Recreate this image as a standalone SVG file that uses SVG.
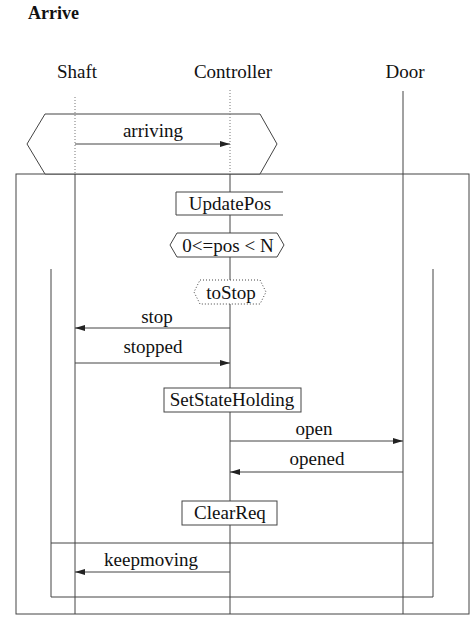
<svg xmlns="http://www.w3.org/2000/svg" width="474" height="623" viewBox="0 0 474 623">
<style>
text{font-family:"Liberation Serif","Times New Roman",serif;font-size:19px;fill:#111}
.title{font-weight:bold;font-size:18px}
.ln{stroke:#444;stroke-width:1;fill:none}
.dot{stroke:#777;stroke-width:1;stroke-dasharray:1 2;fill:none}
.box{stroke:#444;stroke-width:1;fill:#fff}
.msg{stroke:#444;stroke-width:1;fill:none;marker-end:url(#ah)}
</style>
<defs>
<marker id="ah" viewBox="0 0 10 6" refX="10" refY="3" markerWidth="10" markerHeight="6" markerUnits="userSpaceOnUse" orient="auto">
<path d="M0,0 L10,3 L0,6 Z" fill="#222"/>
</marker>
</defs>
<rect width="474" height="623" fill="#fff"/>
<text class="title" x="28" y="19">Arrive</text>
<g id="frames">
<rect class="ln" x="16" y="174" width="453" height="440"/>
<path class="ln" d="M51,269 V597 H433 V269"/>
<line class="ln" x1="51" y1="543" x2="433" y2="543" stroke="#888"/>
<path class="box" d="M45,114 H260 L277,144 L260,174 H45 L27,144 Z"/>
</g>
<g id="lifelines">
<g id="Shaft"><text x="77" y="78" text-anchor="middle">Shaft</text>
<line class="dot" x1="75" y1="97" x2="75" y2="174"/><line class="ln" x1="75" y1="174" x2="75" y2="614" stroke="#666"/></g>
<g id="Controller"><text x="233" y="78" text-anchor="middle">Controller</text>
<line class="dot" x1="230" y1="90" x2="230" y2="174"/><line class="ln" x1="230" y1="174" x2="230" y2="614" stroke="#666"/></g>
<g id="Door"><text x="405" y="78" text-anchor="middle">Door</text>
<line class="ln" x1="403" y1="91" x2="403" y2="614"/></g>
</g>
<g id="connectors">
<line class="msg" x1="75" y1="144" x2="230" y2="144"/>
<line class="msg" x1="230" y1="328" x2="75" y2="328"/>
<line class="msg" x1="75" y1="363" x2="230" y2="363"/>
<line class="msg" x1="230" y1="441" x2="403" y2="441" stroke="#777"/>
<line class="msg" x1="403" y1="472" x2="230" y2="472" stroke="#aaa"/>
<line class="msg" x1="230" y1="572" x2="75" y2="572"/>
</g>
<g id="labels">
<text x="153" y="137" text-anchor="middle">arriving</text>
<text x="157" y="323" text-anchor="middle">stop</text>
<text x="153" y="353" text-anchor="middle">stopped</text>
<text x="314" y="435" text-anchor="middle">open</text>
<text x="317" y="465" text-anchor="middle">opened</text>
<text x="151" y="566" text-anchor="middle">keepmoving</text>
</g>
<g id="UpdatePos">
<rect x="176" y="192" width="107" height="23" fill="#fff"/>
<path class="ln" d="M283,192 H176 V215 H283" stroke="#666"/>
<text x="230" y="210" text-anchor="middle">UpdatePos</text>
</g>
<g id="cond">
<path class="box" d="M177,233 H277 L284,245 L277,257 H177 L170,245 Z"/>
<text x="228" y="252" text-anchor="middle">0&lt;=pos &lt; N</text>
</g>
<g id="toStop">
<path class="box" d="M200,280 H260 L266,292 L260,304 H200 L194,292 Z" stroke="#888" stroke-dasharray="1 2"/>
<text x="231" y="299" text-anchor="middle">toStop</text>
</g>
<g id="SetStateHolding">
<rect class="box" x="164" y="388" width="137" height="24"/>
<text x="232" y="406" text-anchor="middle">SetStateHolding</text>
</g>
<g id="ClearReq">
<rect class="box" x="182" y="501" width="95" height="24"/>
<text x="230" y="519" text-anchor="middle">ClearReq</text>
</g>
</svg>
